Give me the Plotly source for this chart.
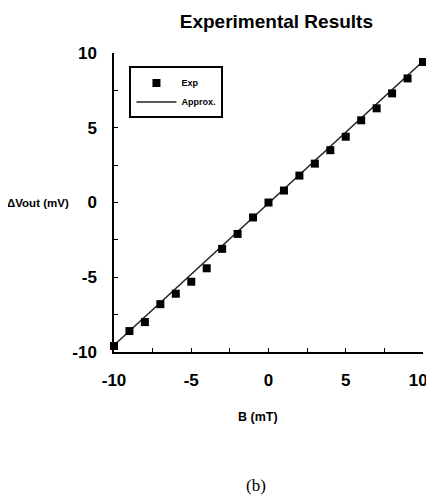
import plotly.graph_objects as go

b_field = [-10, -9, -8, -7, -6, -5, -4, -3, -2, -1, 0, 1, 2, 3, 4, 5, 6, 7, 8, 9, 10]
dvout_exp = [-9.6, -8.6, -8.0, -6.8, -6.1, -5.3, -4.4, -3.1, -2.1, -1.0, 0.0,
             0.8, 1.8, 2.6, 3.5, 4.4, 5.5, 6.3, 7.3, 8.3, 9.4]
approx_x = [-10, 10]
approx_y = [-9.55, 9.45]
tick_vals = [-10, -5, 0, 5, 10]
tick_text = ["<b>-10</b>", "<b>-5</b>", "<b>0</b>", "<b>5</b>", "<b>10</b>"]
x_tick_text = ["<b>-10</b>", "<b>-5</b>", "<b>0</b>", "<b>5</b>", "<b>10</b>\u00a0\u00a0"]

fig = go.Figure()
fig.add_trace(go.Scatter(x=approx_x, y=approx_y, mode="lines", name="<b>Approx.</b>",
                         line=dict(color="#222", width=1.5), cliponaxis=False))
fig.add_trace(go.Scatter(x=b_field, y=dvout_exp, mode="markers", name="<b>Exp</b>",
                         marker=dict(symbol="square", size=8, color="black"),
                         cliponaxis=False))

fnt = "Liberation Sans, Arial, sans-serif"
fig.update_layout(
    width=426, height=491,
    margin=dict(l=106, r=11, t=45, b=147, autoexpand=False),
    plot_bgcolor="white", paper_bgcolor="white",
    showlegend=True,
    legend=dict(x=0.05, y=0.955, xanchor="left", yanchor="top",
                bordercolor="black", borderwidth=2, bgcolor="white",
                font=dict(family=fnt, size=9, color="black"),
                traceorder="reversed", itemwidth=40, tracegroupgap=0),
    title=dict(text="<b>Experimental Results</b>", x=0.630, xanchor="center", y=0.9735,
               yanchor="middle", font=dict(family=fnt, size=19, color="black")),
    xaxis=dict(range=[-10, 10], tickvals=tick_vals, ticktext=x_tick_text, automargin=False,
               showgrid=False, zeroline=False, showline=True, linecolor="black", linewidth=1.5,
               ticks="inside", ticklen=4, tickcolor="black", ticklabeloverflow="allow",
               tickfont=dict(family=fnt, size=17, color="black"),
               ticklabelstandoff=12),
    yaxis=dict(range=[-10, 10], tickvals=tick_vals, ticktext=tick_text, automargin=False,
               showgrid=False, zeroline=False, showline=True, linecolor="black", linewidth=1.5,
               ticks="inside", ticklen=4, tickcolor="black",
               tickfont=dict(family=fnt, size=17, color="black"),
               ticklabelstandoff=12),
)
fig.update_xaxes(minor=dict(tickvals=[-7.5, -2.5, 2.5, 7.5], ticks="inside", ticklen=4, tickcolor="black"))
fig.update_yaxes(minor=dict(tickvals=[-7.5, -2.5, 2.5, 7.5], ticks="inside", ticklen=4, tickcolor="black"))

fig.add_annotation(text="<b>ΔVout (mV)</b>", xref="paper", yref="y", x=-0.245, y=0,
                   xanchor="center", yanchor="middle", showarrow=False,
                   font=dict(family=fnt, size=11.5, color="black"))
fig.add_annotation(text="<b>B (mT)</b>", xref="paper", yref="paper", x=0.466, y=-0.217,
                   xanchor="center", yanchor="middle", showarrow=False,
                   font=dict(family=fnt, size=12.5, color="black"))
fig.add_annotation(text="(b)", xref="paper", yref="paper", x=0.46, y=-0.445,
                   xanchor="center", yanchor="middle", showarrow=False,
                   font=dict(family="Liberation Serif, Times New Roman, serif", size=17, color="black"))

fig.write_html("out.html")
